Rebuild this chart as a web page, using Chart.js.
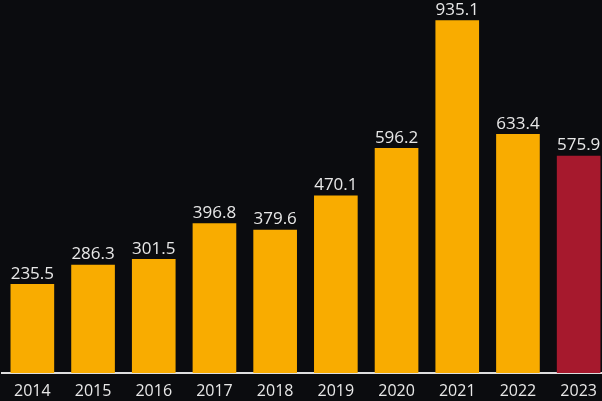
<!DOCTYPE html>
<html>
<head>
<meta charset="utf-8">
<script src="https://cdn.jsdelivr.net/npm/chart.js@4/dist/chart.umd.min.js"></script>
<style>
  html, body { margin: 0; padding: 0; background: #0b0c0f; overflow: hidden; }
  /* the reference is cropped on the right, so the chart runs a bit past the window */
  #wrap { width: 609px; height: 401px; }
</style>
</head>
<body>
<div id="wrap"><canvas id="bars"></canvas></div>
<script>
// years and values
const years = ['2014', '2015', '2016', '2017', '2018', '2019', '2020', '2021', '2022', '2023'];
const values = [235.5, 286.3, 301.5, 396.8, 379.6, 470.1, 596.2, 935.1, 633.4, 575.9];

const YELLOW = '#f9ac00';
const RED = '#a6192d';
const TEXT = '#e8e8e8';

// last year highlighted in red
const barColors = years.map((y, i) => i === years.length - 1 ? RED : YELLOW);

/**
 * Draw value labels above each bar
 */
const valueLabels = {
  id: 'valueLabels',
  afterDatasetsDraw(chart) {
    const ctx = chart.ctx;
    const meta = chart.getDatasetMeta(0);
    ctx.save();
    ctx.font = '17px "Open Sans", sans-serif';
    ctx.fillStyle = TEXT;
    ctx.textAlign = 'center';
    ctx.textBaseline = 'bottom';
    meta.data.forEach((bar, i) => {
      ctx.fillText(values[i].toFixed(1), bar.x, bar.y - 2);
    });
    ctx.restore();
  }
};

new Chart(document.getElementById('bars'), {
  type: 'bar',
  data: {
    labels: years,
    datasets: [{
      data: values,
      backgroundColor: barColors,
      barThickness: 43,
      borderWidth: 0
    }]
  },
  options: {
    responsive: true,
    maintainAspectRatio: false,
    animation: false,
    layout: { padding: { top: 0, left: 2, right: 0, bottom: 0 } },
    plugins: {
      legend: { display: false },
      tooltip: { enabled: false }
    },
    scales: {
      x: {
        grid: { display: false, drawTicks: false },
        border: { display: true, color: '#dedede', width: 2 },
        ticks: {
          color: TEXT,
          padding: 9,
          font: { family: '"Open Sans", sans-serif', size: 16 }
        },
        // fixed axis band so the baseline sits where the reference has it
        afterFit(scale) { scale.height = 28; }
      },
      y: {
        display: false,
        min: 0,
        max: 990
      }
    }
  },
  plugins: [valueLabels]
});
</script>
</body>
</html>
